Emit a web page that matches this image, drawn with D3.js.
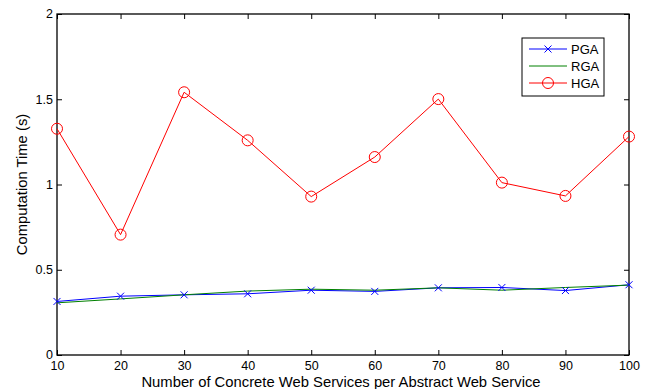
<!DOCTYPE html>
<html><head><meta charset="utf-8">
<script src="https://cdn.jsdelivr.net/npm/d3@7"></script>
<style>body{margin:0;background:#fff}svg{display:block}text{font-family:"Liberation Sans",Arial,sans-serif;fill:#000}</style>
</head><body>
<script>
const xValues = [10,20,30,40,50,60,70,80,90,100];
const pga = [0.314,0.345,0.353,0.359,0.380,0.373,0.394,0.396,0.378,0.412];
const rga = [0.306,0.329,0.353,0.375,0.386,0.380,0.394,0.380,0.396,0.410];
const hga = [1.327,0.706,1.541,1.259,0.929,1.161,1.501,1.011,0.933,1.281];
const yTicks = [0,0.5,1,1.5,2];
const seriesNames = ["PGA","RGA","HGA"];
const seriesColors = ["#0000ff","#008000","#ff0000"];

const W=649,H=389;
const L=57,R=629,T=14,B=355;
const svg=d3.select("body").append("svg").attr("width",W).attr("height",H);
const x=d3.scaleLinear().domain([10,100]).range([L,R]);
const y=d3.scaleLinear().domain([0,2]).range([B,T]);

const tl=5;
svg.append("g").attr("transform",`translate(0,${B})`)
  .call(d3.axisBottom(x).tickValues(xValues).tickSize(-tl).tickPadding(6).tickFormat(d3.format("d")))
  .call(g=>{g.select(".domain").remove();g.selectAll("text").attr("font-size",12.5);});
svg.append("g").attr("transform",`translate(0,${T})`)
  .call(d3.axisTop(x).tickValues(xValues).tickSize(-tl).tickFormat(""))
  .call(g=>g.select(".domain").remove());
svg.append("g").attr("transform",`translate(${L},0)`)
  .call(d3.axisLeft(y).tickValues(yTicks).tickSize(-tl).tickPadding(4).tickFormat(d=>String(d)))
  .call(g=>{g.select(".domain").remove();g.selectAll("text").attr("font-size",12.5).attr("dy","0.3em");});
svg.append("g").attr("transform",`translate(${R},0)`)
  .call(d3.axisRight(y).tickValues(yTicks).tickSize(-tl).tickFormat(""))
  .call(g=>g.select(".domain").remove());
svg.selectAll(".tick line").attr("stroke","#000");
svg.append("rect").attr("x",L).attr("y",T).attr("width",R-L).attr("height",B-T)
  .attr("fill","none").attr("stroke","#000").attr("stroke-width",1.3);

const line=d3.line().x((d,i)=>x(xValues[i])).y(d=>y(d));
const data=[pga,rga,hga];
data.forEach((s,k)=>{
  svg.append("path").datum(s).attr("d",line).attr("fill","none")
    .attr("stroke",seriesColors[k]).attr("stroke-width",1);
});
const cross=(g,cx,cy,c,r)=>{g.append("path").attr("d",`M${cx-r},${cy-r}L${cx+r},${cy+r}M${cx-r},${cy+r}L${cx+r},${cy-r}`).attr("stroke",c).attr("stroke-width",1).attr("fill","none");};
pga.forEach((d,i)=>cross(svg,x(xValues[i]),y(d),seriesColors[0],3.5));
hga.forEach((d,i)=>svg.append("circle").attr("cx",x(xValues[i])).attr("cy",y(d)).attr("r",5.5)
  .attr("fill","none").attr("stroke",seriesColors[2]).attr("stroke-width",1));

svg.append("text").attr("x",(L+R)/2-2).attr("y",387).attr("text-anchor","middle").attr("font-size",14.8)
  .text("Number of Concrete Web Services per Abstract Web Service");
svg.append("text").attr("transform",`translate(27,${(T+B)/2}) rotate(-90)`).attr("text-anchor","middle").attr("font-size",14.8)
  .text("Computation Time (s)");

const lg=svg.append("g");
lg.append("rect").attr("x",522).attr("y",38).attr("width",82).attr("height",58).attr("fill","#fff").attr("stroke","#000").attr("stroke-width",1);
seriesNames.forEach((n,k)=>{
  const yy=49+k*17;
  lg.append("line").attr("x1",529).attr("x2",567).attr("y1",yy).attr("y2",yy).attr("stroke",seriesColors[k]).attr("stroke-width",1);
  if(k===0) cross(lg,548,yy,seriesColors[0],3.5);
  if(k===2) lg.append("circle").attr("cx",548).attr("cy",yy).attr("r",5.5).attr("fill","none").attr("stroke",seriesColors[2]);
  lg.append("text").attr("x",571).attr("y",yy+4.5).attr("font-size",13).text(n);
});
</script>
</body></html>
